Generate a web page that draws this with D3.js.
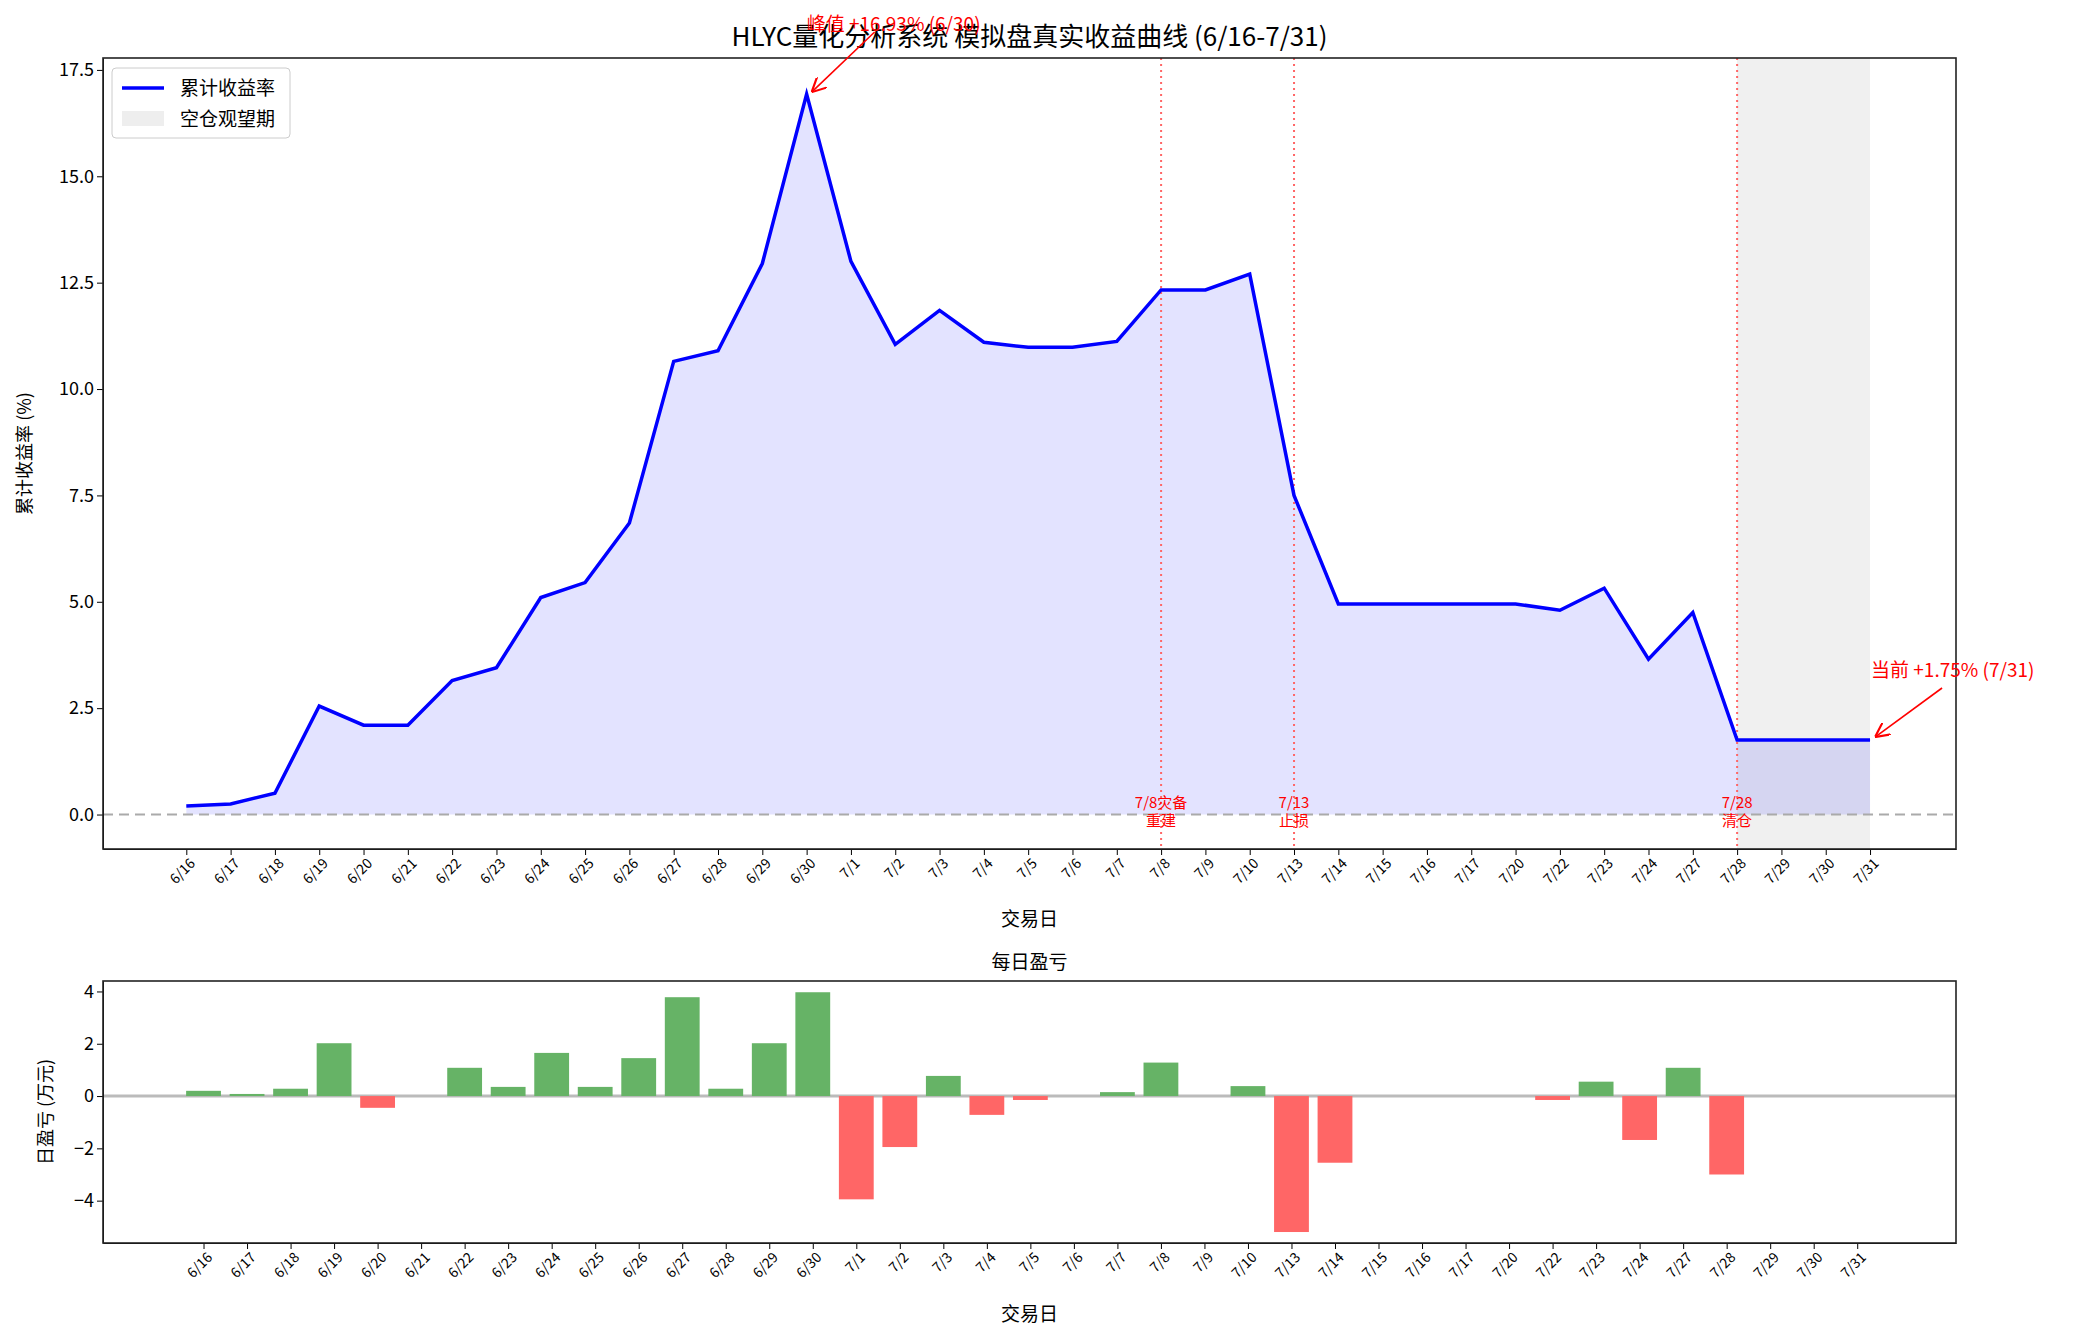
<!DOCTYPE html>
<html><head><meta charset="utf-8">
<script src="https://cdn.jsdelivr.net/npm/d3@7"></script>
<style>body{margin:0;background:#fff}svg text{font-family:"Noto Sans CJK SC","DejaVu Sans",sans-serif}</style>
</head><body><svg id="c" width="2074" height="1337"></svg>
<script>
const dates = ["6/16","6/17","6/18","6/19","6/20","6/21","6/22","6/23","6/24","6/25","6/26","6/27","6/28","6/29","6/30","7/1","7/2","7/3","7/4","7/5","7/6","7/7","7/8","7/9","7/10","7/13","7/14","7/15","7/16","7/17","7/20","7/22","7/23","7/24","7/27","7/28","7/29","7/30","7/31"];
const cumReturn = [0.2,0.25,0.5,2.55,2.1,2.1,3.15,3.45,5.1,5.45,6.85,10.65,10.9,12.95,16.93,13.0,11.05,11.85,11.1,10.98,10.98,11.12,12.33,12.33,12.7,7.5,4.95,4.95,4.95,4.95,4.95,4.8,5.32,3.65,4.75,1.75,1.75,1.75,1.75];
const dailyPnl = [0.2,0.08,0.28,2.02,-0.45,0,1.08,0.35,1.65,0.35,1.45,3.78,0.28,2.02,3.97,-3.95,-1.95,0.77,-0.72,-0.15,0,0.15,1.28,0,0.38,-5.2,-2.55,0,0,0,0,-0.15,0.55,-1.68,1.08,-3.0,0,0,0];
const yTicksTop = [0,2.5,5,7.5,10,12.5,15,17.5];
const yTicksBottom = [-4,-2,0,2,4];
const events = [{d:"7/8",t:["7/8灾备","重建"]},{d:"7/13",t:["7/13","止损"]},{d:"7/28",t:["7/28","清仓"]}];
const idleStart = "7/28", idleEnd = "7/31";
const peakDate = "6/30", currentDate = "7/31";

const svg = d3.select("#c");
svg.append("defs").append("marker").attr("id","arr").attr("viewBox","0 0 10 10").attr("refX",10).attr("refY",5)
 .attr("markerWidth",9).attr("markerHeight",9).attr("orient","auto-start-reverse")
 .append("path").attr("d","M0,0 L10,5 L0,10").attr("fill","none").attr("stroke","red").attr("stroke-width",1.5);

// ---- top chart
const L=103,R=1956,T=58,B=849;
const x = d3.scaleLinear().domain([-1.88,39.94]).range([L,R]);
const y = d3.scaleLinear().domain([-0.81,17.78]).range([B,T]);
const idx = d => dates.indexOf(d);
const g = svg.append("g");
g.append("rect").attr("x",x(idx(idleStart))).attr("y",T).attr("width",x(idx(idleEnd))-x(idx(idleStart))).attr("height",B-T).attr("fill","#f0f0f0");
g.append("path").datum(cumReturn).attr("fill","rgba(0,0,255,0.11)")
 .attr("d",d3.area().x((d,i)=>x(i)).y0(y(0)).y1(d=>y(d)));
g.append("line").attr("x1",L).attr("x2",R).attr("y1",y(0)).attr("y2",y(0)).attr("stroke","#aaa").attr("stroke-width",2).attr("stroke-dasharray","10,6");
events.forEach(e=>{
  const xx=x(idx(e.d));
  g.append("line").attr("x1",xx).attr("x2",xx).attr("y1",T).attr("y2",B).attr("stroke","#ff6666").attr("stroke-width",2).attr("stroke-dasharray","2,4");
  e.t.forEach((s,k)=>g.append("text").attr("x",xx).attr("y",y(0)-7+k*18).attr("text-anchor","middle").attr("font-size",15).attr("fill","red").text(s));
});
g.append("path").datum(cumReturn).attr("fill","none").attr("stroke","#0000ff").attr("stroke-width",3.5)
 .attr("d",d3.line().x((d,i)=>x(i)).y(d=>y(d)));
g.append("g").attr("transform",`translate(${L},0)`).call(d3.axisLeft(y).tickValues(yTicksTop).tickFormat(d3.format(".1f")).tickSizeOuter(0)).attr("font-size",18);
g.append("g").attr("transform",`translate(0,${B})`).call(d3.axisBottom(x).tickValues(d3.range(dates.length)).tickFormat(i=>dates[i]).tickSizeOuter(0))
 .attr("font-size",14).selectAll("text").attr("text-anchor","end").attr("transform","translate(-4,2) rotate(-45)").attr("dy","0.7em");
g.append("rect").attr("x",L).attr("y",T).attr("width",R-L).attr("height",B-T).attr("fill","none").attr("stroke","#222").attr("stroke-width",1.6);
svg.append("text").attr("x",(L+R)/2).attr("y",46).attr("text-anchor","middle").attr("font-size",26).text("HLYC量化分析系统 模拟盘真实收益曲线 (6/16-7/31)");
svg.append("text").attr("x",(L+R)/2).attr("y",926).attr("text-anchor","middle").attr("font-size",19).text("交易日");
svg.append("text").attr("transform",`translate(31,${(T+B)/2}) rotate(-90)`).attr("text-anchor","middle").attr("font-size",18).text("累计收益率 (%)");
// annotations
const pi=idx(peakDate);
svg.append("line").attr("x1",x(pi)+68).attr("x2",x(pi)+5).attr("y1",32).attr("y2",y(cumReturn[pi])-2).attr("stroke","red").attr("stroke-width",1.6).attr("marker-end","url(#arr)");
svg.append("text").attr("x",x(pi)).attr("y",31).attr("font-size",19).attr("fill","red").text("峰值 +16.93% (6/30)");
const ci=idx(currentDate);
svg.append("line").attr("x1",x(ci)+72).attr("x2",x(ci)+5).attr("y1",688).attr("y2",y(cumReturn[ci])-3).attr("stroke","red").attr("stroke-width",1.6).attr("marker-end","url(#arr)");
svg.append("text").attr("x",x(ci)+1).attr("y",677).attr("font-size",19).attr("fill","red").text("当前 +1.75% (7/31)");
// legend
const lg=svg.append("g").attr("transform","translate(112,68)");
lg.append("rect").attr("width",178).attr("height",70).attr("rx",4).attr("fill","#fff").attr("fill-opacity",0.85).attr("stroke","#ccc");
lg.append("line").attr("x1",10).attr("x2",52).attr("y1",20).attr("y2",20).attr("stroke","#0000ff").attr("stroke-width",3.5);
lg.append("text").attr("x",68).attr("y",27).attr("font-size",19).text("累计收益率");
lg.append("rect").attr("x",10).attr("y",43).attr("width",42).attr("height",15).attr("fill","#eeeeee");
lg.append("text").attr("x",68).attr("y",58).attr("font-size",19).text("空仓观望期");

// ---- bottom chart
const T2=981,B2=1243;
const x2 = d3.scaleLinear().domain([-2.31,40.27]).range([L,R]);
const y2 = d3.scaleLinear().domain([-5.62,4.4]).range([B2,T2]);
const g2=svg.append("g");
g2.append("line").attr("x1",L).attr("x2",R).attr("y1",y2(0)).attr("y2",y2(0)).attr("stroke","#bbb").attr("stroke-width",3);
const bw=x2(0.8)-x2(0);
g2.selectAll("rect.b").data(dailyPnl).join("rect").attr("class","b")
 .attr("x",(d,i)=>x2(i)-bw/2).attr("width",bw)
 .attr("y",d=>y2(Math.max(0,d))).attr("height",d=>Math.abs(y2(d)-y2(0)))
 .attr("fill",d=>d>=0?"#66b366":"#ff6666");
g2.append("g").attr("transform",`translate(${L},0)`).call(d3.axisLeft(y2).tickValues(yTicksBottom).tickFormat(d=>d<0?"−"+(-d):d).tickSizeOuter(0)).attr("font-size",18);
g2.append("g").attr("transform",`translate(0,${B2})`).call(d3.axisBottom(x2).tickValues(d3.range(dates.length)).tickFormat(i=>dates[i]).tickSizeOuter(0))
 .attr("font-size",14).selectAll("text").attr("text-anchor","end").attr("transform","translate(-4,2) rotate(-45)").attr("dy","0.7em");
g2.append("rect").attr("x",L).attr("y",T2).attr("width",R-L).attr("height",B2-T2).attr("fill","none").attr("stroke","#222").attr("stroke-width",1.6);
svg.append("text").attr("x",(L+R)/2).attr("y",969).attr("text-anchor","middle").attr("font-size",19).text("每日盈亏");
svg.append("text").attr("x",(L+R)/2).attr("y",1321).attr("text-anchor","middle").attr("font-size",19).text("交易日");
svg.append("text").attr("transform",`translate(52,${(T2+B2)/2}) rotate(-90)`).attr("text-anchor","middle").attr("font-size",18).text("日盈亏 (万元)");
</script></body></html>
